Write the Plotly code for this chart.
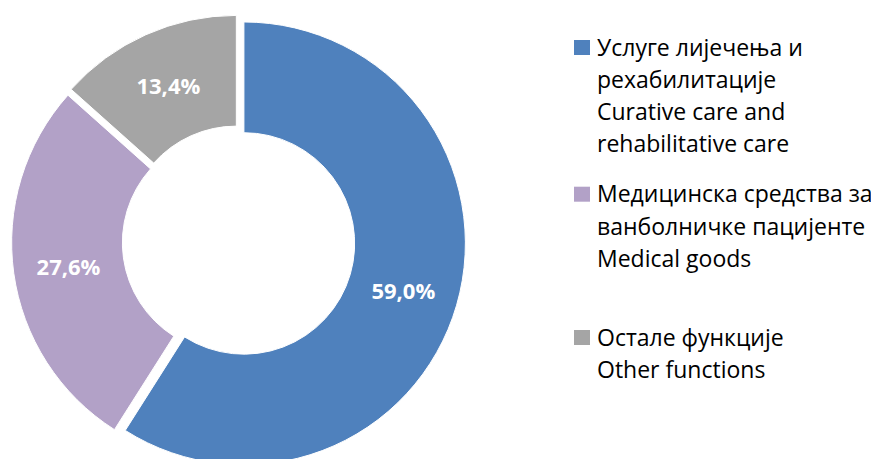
import plotly.graph_objects as go

categories = [
    "Услуге лијечења и<br>рехабилитације<br>Curative care and<br>rehabilitative care",
    "Медицинска средства за<br>ванболничке пацијенте<br>Medical goods",
    "Остале функције<br>Other functions",
]
values = [59.0, 27.6, 13.4]
value_labels = ["59,0%", "27,6%", "13,4%"]
colors = ["#4F81BD", "#B2A1C7", "#A5A5A5"]
pulls = [0.025, 0.025, 0.025]

# page body has an 8px margin; figure coordinates are screen - 8
OFF = 8
W, H = 871, 480

cx, cy, half = 238.6 - OFF, 241.9 - OFF, 227.0
fig = go.Figure(go.Pie(
    labels=categories,
    values=values,
    text=value_labels,
    texttemplate="%{text}",
    textinfo="text",
    textposition="inside",
    insidetextorientation="horizontal",
    textfont=dict(family="Open Sans", size=22, color="white", weight="bold"),
    marker=dict(colors=colors, line=dict(color="white", width=1)),
    hole=0.5,
    sort=False,
    direction="clockwise",
    rotation=0,
    pull=pulls,
    domain=dict(x=[(cx - half) / W, (cx + half) / W],
                y=[1 - (cy + half) / H, 1 - (cy - half) / H]),
    showlegend=False,
))

# manual legend: square + one text per line
first_baselines = [55, 201.7, 345]
line_step = 32.2
sq_w, sq_h = 16, 15
sq_x = 574 - OFF
txt_x = 596 - OFF
for cat, col, b0 in zip(categories, colors, first_baselines):
    b0s = b0 - OFF
    fig.add_shape(type="rect", xref="paper", yref="paper",
                  x0=sq_x / W, x1=(sq_x + sq_w) / W,
                  y0=1 - b0s / H, y1=1 - (b0s - sq_h) / H,
                  fillcolor=col, line=dict(width=0))
    for i, line in enumerate(cat.split("<br>")):
        base = b0s + i * line_step
        fig.add_annotation(xref="paper", yref="paper", x=txt_x / W, y=1 - (base - 8.4) / H,
                           xanchor="left", yanchor="middle", align="left", showarrow=False,
                           borderpad=0,
                           text=line, font=dict(family="Open Sans", size=23, color="#000000"))

fig.update_layout(
    width=W, height=H,
    margin=dict(l=0, r=0, t=0, b=0),
    paper_bgcolor="white", plot_bgcolor="white",
)

fig.write_html("out.html")
